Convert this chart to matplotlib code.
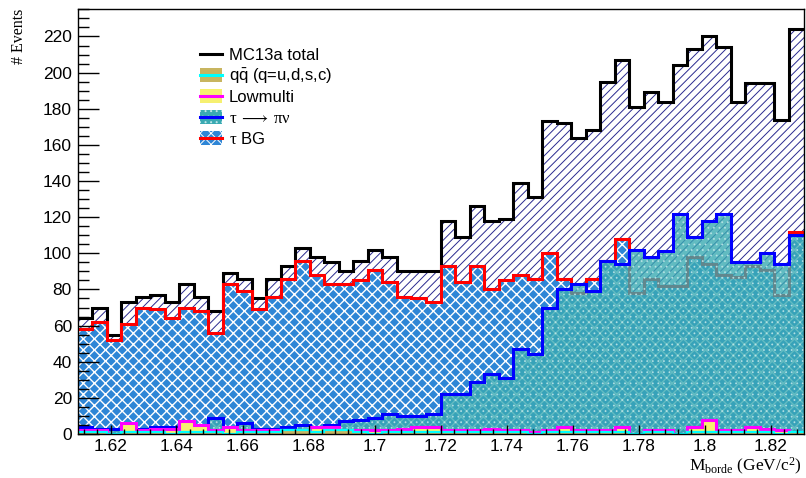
import matplotlib
matplotlib.use('Agg')
import matplotlib.pyplot as plt
import numpy as np
from matplotlib.patches import Patch, Rectangle
from matplotlib.lines import Line2D
from matplotlib.legend_handler import HandlerBase
from matplotlib.ticker import MultipleLocator, FixedLocator

# ---------------- data ----------------
x_min, x_max, n_bins = 1.61, 1.83, 50

total = [64, 70, 55, 73, 76, 77, 73, 83, 76, 68,
         89, 86, 75, 86, 93, 103, 98, 95, 90, 96,
         102, 98, 90, 90, 90, 118, 109, 126, 118, 119,
         139, 131, 173, 172, 164, 168, 195, 207, 181, 189,
         184, 204, 213, 220, 214, 184, 194, 194, 174, 224]

tau_bg = [58, 62, 52, 61, 70, 69, 64, 70, 68, 56,
          83, 79, 69, 76, 86, 96, 88, 83, 83, 85,
          91, 84, 76, 75, 73, 93, 84, 93, 80, 85,
          88, 86, 100, 86, 78, 86, 96, 108, 78, 86,
          82, 82, 98, 94, 88, 87, 93, 91, 77, 112]

tau_pinu = [4, 3, 3, 4, 3, 4, 4, 5, 4, 9,
            2, 6, 3, 3, 4, 5, 4, 5, 7, 8,
            9, 11, 10, 10, 11, 22, 22, 29, 33, 31,
            47, 44, 70, 80, 83, 79, 96, 94, 102, 98,
            101, 122, 109, 118, 122, 95, 95, 100, 94, 110]

lowmulti = [2, 2, 0, 6, 2, 3, 3, 7, 5, 2,
            4, 2, 2, 2, 2, 2, 4, 4, 0, 2,
            2, 2, 3, 4, 4, 2, 2, 2, 3, 2,
            2, 1, 2, 4, 2, 2, 2, 4, 0, 2,
            2, 0, 4, 8, 2, 2, 4, 3, 2, 1]

qqbar = [1, 1, 0, 1, 1, 1, 0, 1, 1, 1,
         0, 1, 1, 1, 2, 2, 1, 2, 2, 1,
         0, 1, 1, 1, 1, 1, 1, 1, 1, 1,
         1, 0, 1, 1, 1, 1, 1, 1, 0, 1,
         1, 0, 1, 1, 1, 1, 1, 1, 0, 1]

xticks = [1.62, 1.64, 1.66, 1.68, 1.70, 1.72, 1.74, 1.76, 1.78, 1.80, 1.82]
xtick_labels = ['1.62', '1.64', '1.66', '1.68', '1.7', '1.72', '1.74',
                '1.76', '1.78', '1.8', '1.82']
yticks = [0, 20, 40, 60, 80, 100, 120, 140, 160, 180, 200, 220]

labels = ['MC13a total', r'$\mathsf{q\bar{q}}$ (q=u,d,s,c)', 'Lowmulti',
          r'$\mathrm{\tau\;\longrightarrow\;\pi\nu}$', r'$\mathrm{\tau}$ BG']

# ---------------- style ----------------
plt.rcParams['font.family'] = ['Liberation Sans', 'DejaVu Sans']
plt.rcParams['mathtext.fontset'] = 'custom'
plt.rcParams['mathtext.rm'] = 'Liberation Serif'
plt.rcParams['mathtext.it'] = 'Liberation Serif:italic'
plt.rcParams['mathtext.sf'] = 'Liberation Sans'
plt.rcParams['hatch.linewidth'] = 0.7

edges = np.linspace(x_min, x_max, n_bins + 1)

fig = plt.figure(figsize=(8.06, 4.78), dpi=100)
ax = fig.add_axes([77.5 / 806, 1 - 434 / 478, 726 / 806, 425 / 478])

C_NAVY = '#2a2a90'
C_TBG = '#2e86d6'
C_TEAL = '#3aaab2'
C_TEAL_H = '#bfe6e8'
C_YEL = '#f6f070'
C_KHAKI = '#c8b560'

def hfill(vals, face, hatch=None, hcolor='none', z=1, alpha=1.0, hlw=None):
    p = ax.stairs(vals, edges, baseline=0, fill=True, facecolor=face,
                  edgecolor=hcolor, hatch=hatch, linewidth=0, zorder=z, alpha=alpha)
    if hlw is not None and hasattr(p, 'set_hatch_linewidth'):
        p.set_hatch_linewidth(hlw)
    return p

def hline(vals, color, z, lw=2.2):
    return ax.stairs(vals, edges, baseline=None, fill=False, edgecolor=color,
                     linewidth=lw, zorder=z)

hfill(total, 'white', hatch='////', hcolor=C_NAVY, z=1)
hline(total, 'black', 2)
hfill(tau_bg, C_TBG, hatch='xxx', hcolor='white', z=3, hlw=1.0)
hline(tau_bg, 'red', 4)
hfill(tau_pinu, C_TEAL, hatch='...', hcolor=C_TEAL_H, z=5, alpha=0.8, hlw=0.6)
hline(tau_pinu, 'blue', 6)
hfill(lowmulti, C_YEL, z=7)
hline(lowmulti, 'magenta', 8)
hfill(qqbar, C_KHAKI, z=9)
hline(qqbar, 'cyan', 10, lw=1.6)

ax.set_xlim(x_min, x_max)
ax.set_ylim(0, 235.2)

ax.xaxis.set_major_locator(FixedLocator(xticks))
ax.set_xticklabels(xtick_labels)
ax.xaxis.set_minor_locator(MultipleLocator(0.004))
ax.yaxis.set_major_locator(FixedLocator(yticks))
ax.yaxis.set_minor_locator(MultipleLocator(5))

ax.tick_params(axis='y', which='major', direction='in', length=15, width=1,
               labelsize=12.5, pad=4, right=False)
ax.tick_params(axis='y', which='minor', direction='in', length=8, width=1, right=False)
ax.tick_params(axis='x', which='major', direction='in', length=6.5, width=1,
               labelsize=12.5, pad=3.5, top=False)
ax.tick_params(axis='x', which='minor', direction='in', length=3.3, width=1, top=False)
ax.xaxis.set_zorder(20)
ax.yaxis.set_zorder(20)
for s in ax.spines.values():
    s.set_zorder(21)
    s.set_linewidth(1.0)

fig.text(19 / 806, 1 - 9 / 478, '# Events', rotation=90, ha='center', va='top',
         family='Liberation Serif', fontsize=11.5)
fig.text(802 / 806, 1 - 466 / 478, r'$\mathrm{M_{borde}\ (GeV/c^{2})}$',
         ha='right', va='center', fontsize=12.5)

# ---------------- legend ----------------
class BoxLineHandler(HandlerBase):
    def __init__(self, face=None, lc='black', hatch=None, hcolor='none'):
        super().__init__()
        self.face, self.lc, self.hatch, self.hcolor = face, lc, hatch, hcolor

    def create_artists(self, legend, orig_handle, xdescent, ydescent,
                       width, height, fontsize, trans):
        arts = []
        bh = 14.0 * 72 / 100
        y0 = -ydescent + (height - bh) / 2
        if self.face is not None:
            r = Rectangle((-xdescent, y0), width, bh, facecolor=self.face,
                          edgecolor=self.hcolor, hatch=self.hatch, lw=0,
                          transform=trans)
            arts.append(r)
        ym = -ydescent + height / 2
        ln = Line2D([-xdescent, -xdescent + width], [ym, ym], color=self.lc,
                    lw=2.2, transform=trans)
        arts.append(ln)
        return arts

handles = [Patch(label=l) for l in labels]
hmap = {
    handles[0]: BoxLineHandler(None, 'black'),
    handles[1]: BoxLineHandler(C_KHAKI, 'cyan'),
    handles[2]: BoxLineHandler(C_YEL, 'magenta'),
    handles[3]: BoxLineHandler(C_TEAL, 'blue', '...', C_TEAL_H),
    handles[4]: BoxLineHandler(C_TBG, 'red', 'xxx', 'white'),
}
fs = 12
fpx = fs * 100 / 72
leg = ax.legend(handles, labels, loc='upper left', handler_map=hmap,
                bbox_to_anchor=((200 - 77.5) / 726, (434 - 44) / 425),
                frameon=False, fontsize=fs,
                handlelength=22 / fpx, handleheight=1.56,
                handletextpad=7 / fpx, borderaxespad=0, borderpad=0,
                labelspacing=0.0)
leg.set_zorder(30)

fig.savefig('out.png', dpi=100)
